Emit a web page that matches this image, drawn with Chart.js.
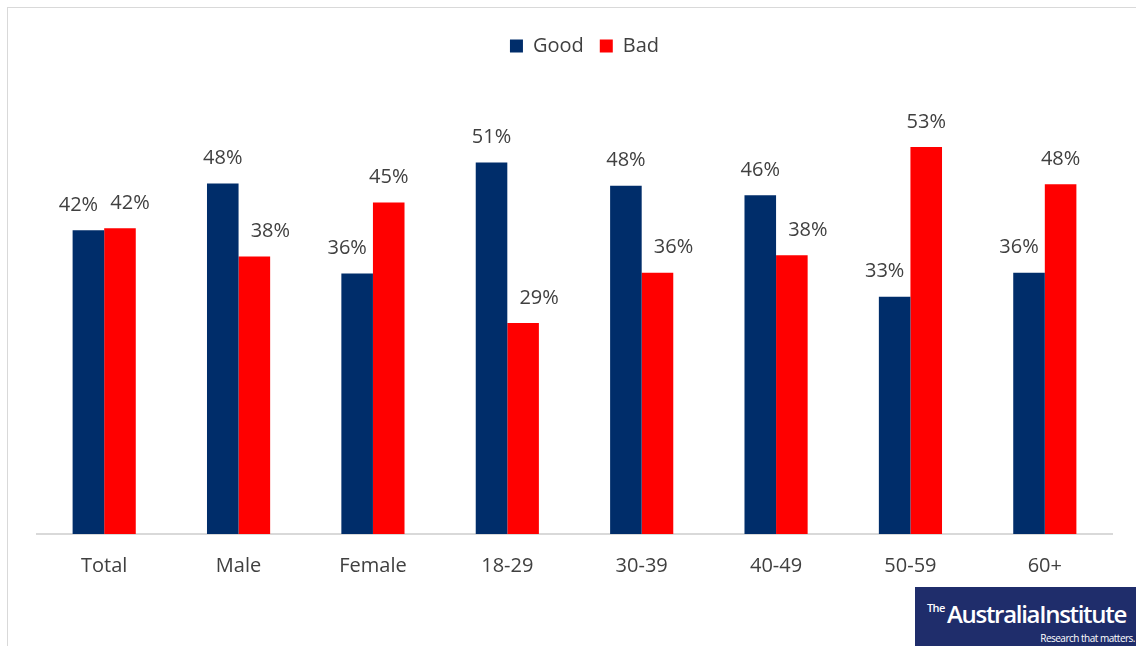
<!DOCTYPE html>
<html>
<head>
<meta charset="utf-8">
<script src="https://cdn.jsdelivr.net/npm/chart.js@4"></script>
<style>
  html, body { margin: 0; padding: 0; background: #fff; }
  #wrap { position: relative; width: 1136px; height: 646px; overflow: hidden; }
  #frame { position: absolute; left: 7px; top: 7px; width: 1200px; height: 700px;
           border-left: 1px solid #d9d9d9; border-top: 1px solid #d9d9d9; box-sizing: border-box; }
  canvas { position: absolute; left: 0; top: 0; }
  #logo { position: absolute; left: 915px; top: 587px; width: 221px; height: 59px; background: #1f2d6b; color: #fff;
          font-family: "Open Sans", sans-serif; overflow: hidden; line-height: 1; }
  #logo .the { position: absolute; left: 12px; top: 15px; font-size: 11px; font-weight: 600; letter-spacing: -0.6px; }
  #logo .main { position: absolute; left: 32px; top: 15px; font-size: 24px; font-weight: 600; letter-spacing: -1.3px; white-space: nowrap; }
  #logo .sub { position: absolute; right: 1px; top: 46px; font-size: 10px; letter-spacing: -0.5px; white-space: nowrap; }
</style>
</head>
<body>
<div id="wrap">
  <div id="frame"></div>
  <canvas id="c" width="1136" height="646"></canvas>
  <div id="logo"><div class="the">The</div><div class="main">AustraliaInstitute</div><div class="sub">Research that matters.</div></div>
</div>
<script>
const categories = ["Total", "Male", "Female", "18-29", "30-39", "40-49", "50-59", "60+"];
const goodValues = [41.6, 48.0, 35.7, 50.9, 47.7, 46.4, 32.5, 35.8];
const badValues  = [41.9, 38.0, 45.4, 28.9, 35.8, 38.2, 53.0, 47.9];
const seriesNames = ["Good", "Bad"];

const NAVY = "#002d6a";
const RED = "#ff0000";
const TEXT = "#404040";
const FONT = "'Open Sans', sans-serif";

const labelPlugin = {
  id: "barLabels",
  afterDatasetsDraw(chart) {
    const ctx = chart.ctx;
    ctx.save();
    ctx.font = "20px " + FONT;
    ctx.fillStyle = TEXT;
    ctx.textAlign = "center";
    ctx.textBaseline = "middle";
    const m0 = chart.getDatasetMeta(0), m1 = chart.getDatasetMeta(1);
    categories.forEach((c, i) => {
      const g = goodValues[i], b = badValues[i];
      let gs = 0, bs = 0;
      if (Math.abs(g - b) < 1) { gs = -10; bs = 10; }
      else if (g < b) { gs = -10; }
      else { bs = 16; }
      const eg = m0.data[i], eb = m1.data[i];
      ctx.fillText(Math.round(g) + "%", eg.x + gs, eg.y - 25);
      ctx.fillText(Math.round(b) + "%", eb.x + bs, eb.y - 25);
    });
    ctx.restore();
  }
};

const legendSpace = {
  id: "legendSpace",
  beforeInit(chart) {
    const orig = chart.legend.fit;
    chart.legend.fit = function () {
      orig.bind(chart.legend)();
      this.height += 30;
    };
  },
  afterLayout(chart) {
    chart.legend.left += 10;
    chart.legend.right += 10;
  }
};

new Chart(document.getElementById("c"), {
  type: "bar",
  data: {
    labels: categories,
    datasets: [
      { label: seriesNames[0], data: goodValues, backgroundColor: NAVY },
      { label: seriesNames[1], data: badValues, backgroundColor: RED }
    ]
  },
  options: {
    responsive: false,
    animation: false,
    layout: { padding: { left: 37, right: 24, top: 20, bottom: 48 } },
    datasets: { bar: { categoryPercentage: 0.47, barPercentage: 1.0 } },
    plugins: {
      legend: {
        position: "top",
        labels: { font: { family: FONT, size: 20 }, color: TEXT, boxWidth: 13, boxHeight: 13, padding: 16 }
      },
      tooltip: { enabled: false }
    },
    scales: {
      x: {
        grid: { display: false, drawTicks: false },
        border: { color: "#d9d9d9", width: 2 },
        ticks: { font: { family: FONT, size: 20 }, color: TEXT, padding: 20 }
      },
      y: { display: false, min: 0, max: 60 }
    }
  },
  plugins: [labelPlugin, legendSpace]
});
</script>
</body>
</html>
